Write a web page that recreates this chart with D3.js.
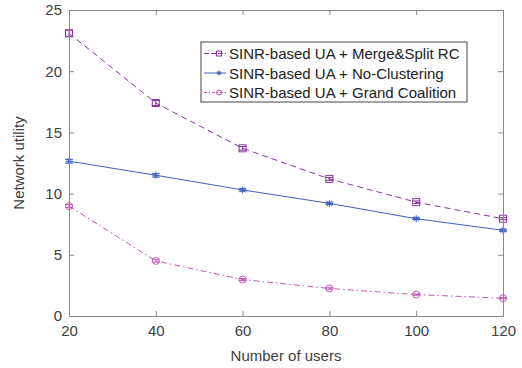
<!DOCTYPE html>
<html>
<head>
<meta charset="utf-8">
<script src="https://cdn.jsdelivr.net/npm/d3@7"></script>
<style>
  html, body { margin: 0; padding: 0; background: #fff; }
  svg { display: block; font-family: "Liberation Sans", Arial, sans-serif; }
</style>
</head>
<body>
<svg id="chart" width="522" height="368"></svg>
<script>
// Number of users on the x axis
const users = [20, 40, 60, 80, 100, 120];

// Network utility per scheme
const mergeSplit   = [23.1, 17.4, 13.7, 11.2, 9.3, 7.95];
const noClustering = [12.65, 11.5, 10.3, 9.2, 7.95, 7.0];
const grandCoal    = [8.98, 4.5, 2.98, 2.25, 1.75, 1.45];

// Half-width of the confidence interval at each point
const mergeErr = [0.25, 0.2, 0.15, 0.12, 0.1, 0.08];
const noclErr  = [0.15, 0.15, 0.1, 0.1, 0.08, 0.08];
const grandErr = [0.12, 0.1, 0.08, 0.06, 0.05, 0.05];

const xTicks = [20, 40, 60, 80, 100, 120];
const yTicks = [0, 5, 10, 15, 20, 25];

const seriesNames = [
  "SINR-based UA + Merge&Split RC",
  "SINR-based UA + No-Clustering",
  "SINR-based UA + Grand Coalition"
];

const series = [
  { name: seriesNames[0], values: mergeSplit, err: mergeErr, color: "#8a35a0", dash: "6,4", legendDash: "5,2", marker: "square" },
  { name: seriesNames[1], values: noClustering, err: noclErr, color: "#3f5fbf", dash: null, legendDash: null, marker: "star" },
  { name: seriesNames[2], values: grandCoal, err: grandErr, color: "#c656b5", dash: "6,3,1.5,3", legendDash: "3,2,1,2", marker: "circle" }
];

const svg = d3.select("#chart");
const mLeft = 69, mRight = 503, mTop = 10, mBottom = 316;

const x = d3.scaleLinear().domain([20, 120]).range([mLeft, mRight]);
const y = d3.scaleLinear().domain([0, 25]).range([mBottom, mTop]);

const axisColor = "#888";
const textColor = "#404040";

// Series lines, error bars and markers
const line = d3.line().x((d, i) => x(users[i])).y(d => y(d));

function drawMarker(g, type, cx, cy, color, size) {
  const h = size / 2;
  if (type === "square") {
    g.append("rect").attr("x", cx - h).attr("y", cy - h).attr("width", size).attr("height", size)
      .attr("fill", "none").attr("stroke", color).attr("stroke-width", 1);
  } else if (type === "circle") {
    g.append("circle").attr("cx", cx).attr("cy", cy).attr("r", h)
      .attr("fill", "none").attr("stroke", color).attr("stroke-width", 1);
  } else if (type === "star") {
    const r = h;
    [[-r, 0, r, 0], [0, -r, 0, r], [-r * 0.7, -r * 0.7, r * 0.7, r * 0.7], [-r * 0.7, r * 0.7, r * 0.7, -r * 0.7]]
      .forEach(s => g.append("line").attr("x1", cx + s[0]).attr("y1", cy + s[1])
        .attr("x2", cx + s[2]).attr("y2", cy + s[3]).attr("stroke", color).attr("stroke-width", 1));
  }
}

series.forEach(s => {
  const g = svg.append("g");
  g.append("path").datum(s.values).attr("d", line)
    .attr("fill", "none").attr("stroke", s.color).attr("stroke-width", 1)
    .attr("stroke-dasharray", s.dash);
  s.values.forEach((v, i) => {
    const cx = x(users[i]);
    const y1 = y(v + s.err[i]), y0 = y(v - s.err[i]);
    g.append("line").attr("x1", cx).attr("x2", cx).attr("y1", y1).attr("y2", y0)
      .attr("stroke", s.color).attr("stroke-width", 1);
    [y1, y0].forEach(yy => g.append("line").attr("x1", cx - 4).attr("x2", cx + 4)
      .attr("y1", yy).attr("y2", yy).attr("stroke", s.color).attr("stroke-width", 1));
    drawMarker(g, s.marker, cx, y(v), s.color, 7);
  });
});

// Axes with box (ticks inward on all four sides)
const tickLen = 5;
const xAxis = d3.axisBottom(x).tickValues(xTicks).tickSize(-tickLen).tickPadding(9);
const yAxis = d3.axisLeft(y).tickValues(yTicks).tickSize(-tickLen).tickPadding(7);
const xTop = d3.axisTop(x).tickValues(xTicks).tickSize(-tickLen).tickFormat("");
const yRight = d3.axisRight(y).tickValues(yTicks).tickSize(-tickLen).tickFormat("");

function style(g) {
  g.selectAll("path, line").attr("stroke", axisColor).attr("stroke-width", 1);
  g.selectAll("text").attr("fill", textColor).style("font-size", "15px")
    .style("font-family", "'Liberation Sans', Arial, sans-serif");
}

svg.append("g").attr("transform", `translate(0,${mBottom})`).call(xAxis).call(style);
svg.append("g").attr("transform", `translate(${mLeft},0)`).call(yAxis).call(style);
svg.append("g").attr("transform", `translate(0,${mTop})`).call(xTop).call(style);
svg.append("g").attr("transform", `translate(${mRight},0)`).call(yRight).call(style);

// Axis titles
svg.append("text").attr("x", (mLeft + mRight) / 2).attr("y", 361).attr("text-anchor", "middle")
  .attr("fill", textColor).style("font-size", "15px").text("Number of users");
svg.append("text").attr("transform", `translate(24,${(mTop + mBottom) / 2}) rotate(-90)`)
  .attr("text-anchor", "middle").attr("fill", textColor).style("font-size", "15px").text("Network utility");

// Legend
const lg = svg.append("g");
const lx = 201, ly = 42, lw = 266, lh = 60;
lg.append("rect").attr("x", lx).attr("y", ly).attr("width", lw).attr("height", lh)
  .attr("fill", "#fff").attr("stroke", "#444").attr("stroke-width", 1);
series.forEach((s, i) => {
  const cy = ly + 11.5 + i * 19.5;
  lg.append("line").attr("x1", lx + 3).attr("x2", lx + 25).attr("y1", cy).attr("y2", cy)
    .attr("stroke", s.color).attr("stroke-width", 1)
    .attr("stroke-dasharray", s.legendDash);
  drawMarker(lg, s.marker, lx + 18, cy, s.color, 5);
  lg.append("text").attr("x", lx + 28).attr("y", cy + 5.5).attr("fill", "#222")
    .style("font-size", "15px").text(s.name);
});
</script>
</body>
</html>
